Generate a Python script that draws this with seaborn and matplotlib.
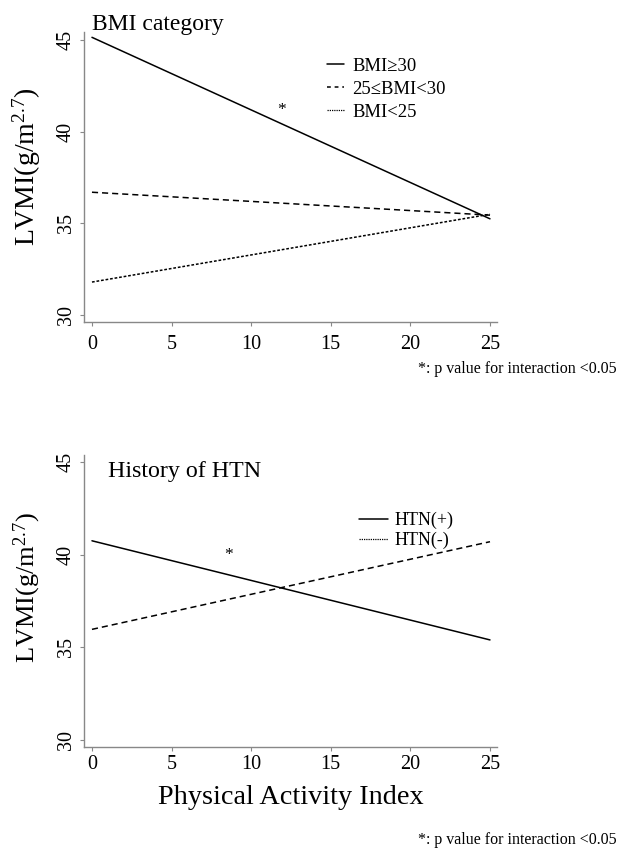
import matplotlib
matplotlib.use("Agg")
import matplotlib.pyplot as plt
import seaborn as sns
import pandas as pd
from matplotlib.lines import Line2D

# ---- data ----
pai = [0, 25]
bmi_labels = ["BMI≥30", "25≤BMI<30", "BMI<25"]
bmi_ge30 = [45.15, 35.25]
bmi_25_30 = [36.7, 35.45]
bmi_lt25 = [31.8, 35.5]
htn_labels = ["HTN(+)", "HTN(-)"]
htn_pos = [40.75, 35.4]
htn_neg = [35.97, 40.7]
star_top = (11.9, 41.2)
star_bot = (8.55, 40.0)
yticks = [30, 35, 40, 45]
xticks = [0, 5, 10, 15, 20, 25]

sns.set_theme(style="white")
plt.rcParams['font.family'] = ['Liberation Serif', 'DejaVu Serif']
plt.rcParams['mathtext.fontset'] = 'custom'
plt.rcParams['mathtext.rm'] = 'Liberation Serif'
plt.rcParams['mathtext.it'] = 'Liberation Serif'
plt.rcParams['text.color'] = 'black'
plt.rcParams['axes.labelcolor'] = 'black'
plt.rcParams['xtick.color'] = 'black'
plt.rcParams['ytick.color'] = 'black'

fig = plt.figure(figsize=(6.2, 8.49), dpi=100)
ax1 = fig.add_axes([0.1355, 0.6207, 0.6661, 0.3416])
ax2 = fig.add_axes([0.1355, 0.1201, 0.6661, 0.3440])

dashed = (0, (4, 2.6))
dotted = (0, (1.8, 1.2))
lw = 1.1

def draw(ax, x, y, ls):
    sns.lineplot(x=x, y=y, ax=ax, color="black", linewidth=lw, linestyle=ls)

draw(ax1, pai, bmi_ge30, "-")
draw(ax1, pai, bmi_25_30, dashed)
draw(ax1, pai, bmi_lt25, dotted)
draw(ax2, pai, htn_pos, "-")
draw(ax2, pai, htn_neg, dashed)

for ax in (ax1, ax2):
    ax.set_xlim(-0.5, 25.44)
    ax.set_xticks(xticks)
    ax.set_yticks(yticks)
    for s in ("top", "right"):
        ax.spines[s].set_visible(False)
    for s in ("left", "bottom"):
        ax.spines[s].set_color("#888888")
        ax.spines[s].set_linewidth(1.0)
    ax.tick_params(axis="both", direction="out", length=3, width=0.8,
                   color="#888888", labelcolor="black", labelsize=14.5, pad=3,
                   left=True, bottom=True)
    for lab in ax.get_yticklabels():
        lab.set_rotation(90)
        lab.set_va("center")
    ax.set_xlabel("")

ax1.tick_params(axis="x", pad=6)
ax1.set_ylabel("LVMI(g/m$^{2.7}$)", fontsize=20)
ax2.set_ylabel("LVMI(g/m$^{2.7}$)", fontsize=19)
ax1.yaxis.set_label_coords(-0.099, 0.534)
ax2.yaxis.set_label_coords(-0.099, 0.545)

ax1.set_ylim(29.62, 45.44)
ax2.set_ylim(29.62, 45.38)

ax1.text(0.019, 1.007, "BMI category", transform=ax1.transAxes, fontsize=17,
         ha="left", va="baseline")
ax2.text(0.058, 0.98, "History of HTN", transform=ax2.transAxes, fontsize=17.3,
         ha="left", va="top")

ax1.text(star_top[0], star_top[1], "*", fontsize=12.5, ha="center", va="center")
ax2.text(star_bot[0], star_bot[1], "*", fontsize=12.5, ha="center", va="center")

h1 = [Line2D([], [], color="black", lw=1.1, ls="-"),
      Line2D([], [], color="black", lw=1.1, ls=(0, (2.5, 2.5))),
      Line2D([], [], color="black", lw=0.9, ls=(0, (1, 0.8)))]
ax1.legend(h1, bmi_labels, loc="upper left", bbox_to_anchor=(0.57, 0.937),
           frameon=False, fontsize=13.4, handlelength=0.9, handletextpad=0.45,
           labelspacing=0.32, borderaxespad=0)
h2 = [Line2D([], [], color="black", lw=1.1, ls="-"),
      Line2D([], [], color="black", lw=0.9, ls=(0, (1, 0.8)))]
ax2.legend(h2, htn_labels, loc="upper left", bbox_to_anchor=(0.648, 0.83),
           frameon=False, fontsize=13, handlelength=1.6, handletextpad=0.4,
           labelspacing=0.15, borderaxespad=0)

ax2.set_xlabel("Physical Activity Index", fontsize=20.3, labelpad=8)

fig.text(0.995, 0.5654, "*: p value for interaction <0.05", fontsize=11.5,
         ha="right", va="center")
fig.text(0.995, 0.011, "*: p value for interaction <0.05", fontsize=11.5,
         ha="right", va="center")

fig.savefig("out.png", dpi=100)
